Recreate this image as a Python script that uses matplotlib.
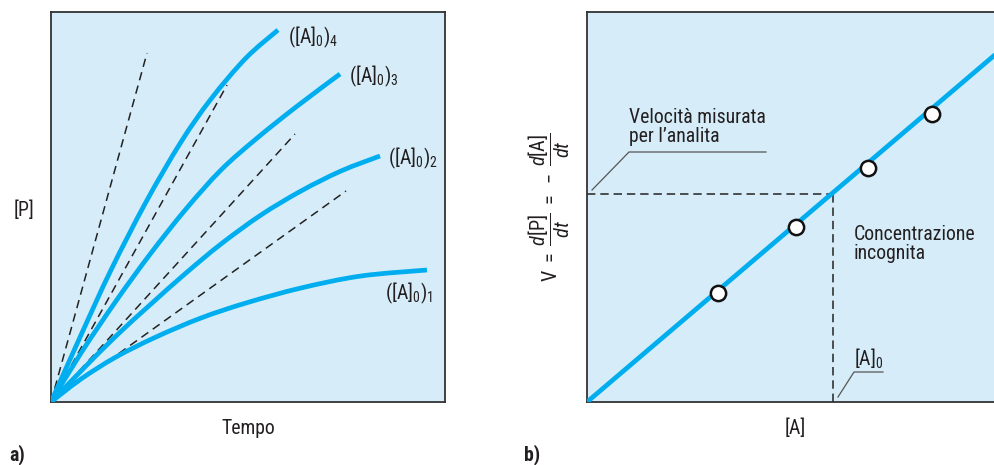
import matplotlib
matplotlib.use("Agg")
import numpy as np
import matplotlib.pyplot as plt
import matplotlib.font_manager as fm
from matplotlib.lines import Line2D
from matplotlib.path import Path
from matplotlib.patches import PathPatch

# ---- data -------------------------------------------------------------
# (a) product formed vs time for four initial substrate concentrations
t_c4 = [0, 30, 60, 95, 130, 160, 195, 227]
p_c4 = [0, 67, 132, 200, 260, 303, 344, 372]
t_c3 = [0, 30, 65, 100, 135, 170, 205, 245, 289]
p_c3 = [0, 49, 101, 149, 193, 232, 263, 295, 328]
t_c2 = [0, 30, 65, 100, 135, 170, 210, 250, 290, 329]
p_c2 = [0, 31, 66, 98, 129, 158, 187, 211, 231, 246]
t_c1 = [0, 30, 65, 105, 150, 195, 250, 310, 376]
p_c1 = [0, 23, 45, 65, 84, 99, 114, 126, 132]
curve_labels = [r"([A]$_0$)$_1$", r"([A]$_0$)$_2$", r"([A]$_0$)$_3$", r"([A]$_0$)$_4$"]

# initial-rate tangents (end points of the dashed lines from the origin)
tan_t = [295, 244, 176, 96]
tan_p = [211, 268, 317, 349]

# (b) calibration: initial rate vs concentration
line_A = [0, 423]
line_V = [0, 360]
pts_A = [131, 209, 281, 345]
pts_V = [109, 175, 234, 288]
unknown_A = 246
unknown_V = 208

# ---- style ------------------------------------------------------------
names = {f.name for f in fm.fontManager.ttflist}
family = next((n for n in ["Liberation Sans Narrow", "Roboto Condensed",
                           "Open Sans Condensed", "Liberation Sans"] if n in names),
              "DejaVu Sans")
plt.rcParams["font.family"] = [family, "DejaVu Sans"]
plt.rcParams["mathtext.fontset"] = "custom"
plt.rcParams["mathtext.rm"] = family
plt.rcParams["mathtext.it"] = family + ":italic"
plt.rcParams["mathtext.bf"] = family + ":bold"

BG = "#d6edf9"
BLUE = "#00aeef"
FRAME = "#333333"
TXT = "#231f20"
FS = 14.2

W, H = 995, 465
fig = plt.figure(figsize=(W / 100, H / 100), dpi=100)


def px_axes(x0, y0, x1, y1):
    return fig.add_axes([x0 / W, 1 - y1 / H, (x1 - x0) / W, (y1 - y0) / H])


def fig_text(x, y, s, **kw):
    fig.text(x / W, 1 - y / H, s, color=TXT, **kw)


def smooth_curve(ax, xs, ys, **kw):
    """Draw a smooth curve through the given points (Catmull-Rom as Bezier)."""
    P = np.column_stack([xs, ys]).astype(float)
    n = len(P)
    verts = [P[0]]
    codes = [Path.MOVETO]
    for i in range(n - 1):
        p0 = P[i - 1] if i > 0 else P[i]
        p1, p2 = P[i], P[i + 1]
        p3 = P[i + 2] if i + 2 < n else P[i + 1]
        verts += [p1 + (p2 - p0) / 6, p2 - (p3 - p1) / 6, p2]
        codes += [Path.CURVE4] * 3
    ax.add_patch(PathPatch(Path(verts, codes), fill=False, **kw))


# ---- panel a ----------------------------------------------------------
ax = px_axes(51, 12, 445, 402)
ax.set_facecolor(BG)
ax.set_xlim(0, 394)
ax.set_ylim(0, 390)
ax.set_xticks([])
ax.set_yticks([])
for sp in ax.spines.values():
    sp.set_color(FRAME)
    sp.set_linewidth(1.3)

for te, pe in zip(tan_t, tan_p):
    ax.plot([0, te], [0, pe], color="#222222", lw=1.1, dashes=(5.5, 3.6),
            solid_capstyle="butt", zorder=2)

curves = [(t_c1, p_c1), (t_c2, p_c2), (t_c3, p_c3), (t_c4, p_c4)]
offsets = [(-30, -17), (6, -2), (6.5, -1.5), (7, -5)]
for (tt, pp), lab, off in zip(curves, curve_labels, offsets):
    smooth_curve(ax, tt, pp, edgecolor=BLUE, lw=3.4, capstyle="butt",
                 joinstyle="round", zorder=3)
    ax.annotate(lab, (tt[-1], pp[-1]), xytext=off, textcoords="offset points",
                ha="left", va="center", fontsize=FS, color=TXT)

fig_text(248, 428, "Tempo", ha="center", va="center", fontsize=FS)
fig_text(24, 210, "[P]", ha="center", va="center", fontsize=FS)
fig_text(17, 455, "a)", ha="center", va="center", fontsize=FS, fontweight="bold")

# ---- panel b ----------------------------------------------------------
bx = px_axes(587, 12, 1010, 402)
bx.set_facecolor(BG)
bx.set_xlim(0, 423)
bx.set_ylim(0, 390)
bx.set_xticks([])
bx.set_yticks([])
for sp in bx.spines.values():
    sp.set_color(FRAME)
    sp.set_linewidth(1.3)

bx.plot(line_A, line_V, color=BLUE, lw=3.4, solid_capstyle="butt", zorder=3)
bx.plot(pts_A, pts_V, ls="none", marker="o", ms=11, mfc="white",
        mec="#111111", mew=1.8, zorder=4)
bx.plot([0, unknown_A], [unknown_V, unknown_V], color="#222222", lw=1.1,
        dashes=(5.5, 3.2), zorder=2)
bx.plot([unknown_A, unknown_A], [0, unknown_V], color="#222222", lw=1.1,
        dashes=(5.5, 3.2), zorder=2)

# leader lines for the callouts
bx.add_line(Line2D([5, 42, 179], [212, 250, 250], color="#555555", lw=0.9))
bx.add_line(Line2D([251, 267, 296], [5, 30, 30], color="#555555", lw=0.9))

fig_text(629, 127, "Velocità misurata\nper l’analita", ha="left", va="center",
         fontsize=FS, linespacing=1.0)
fig_text(854, 244, "Concentrazione\nincognita", ha="left", va="center",
         fontsize=FS, linespacing=1.0)
fig_text(854, 359, r"[A]$_0$", ha="left", va="center", fontsize=FS)

fig_text(795, 428, "[A]", ha="center", va="center", fontsize=FS)
fig_text(549, 207,
         r"$\mathrm{V}\ =\ \dfrac{d[\mathrm{P}]}{dt}\ =\ -\ \dfrac{d[\mathrm{A}]}{dt}$",
         ha="center", va="center", rotation=90, fontsize=14.5)
fig_text(532, 455, "b)", ha="center", va="center", fontsize=FS, fontweight="bold")

fig.savefig("out.png", dpi=100, facecolor="white")
